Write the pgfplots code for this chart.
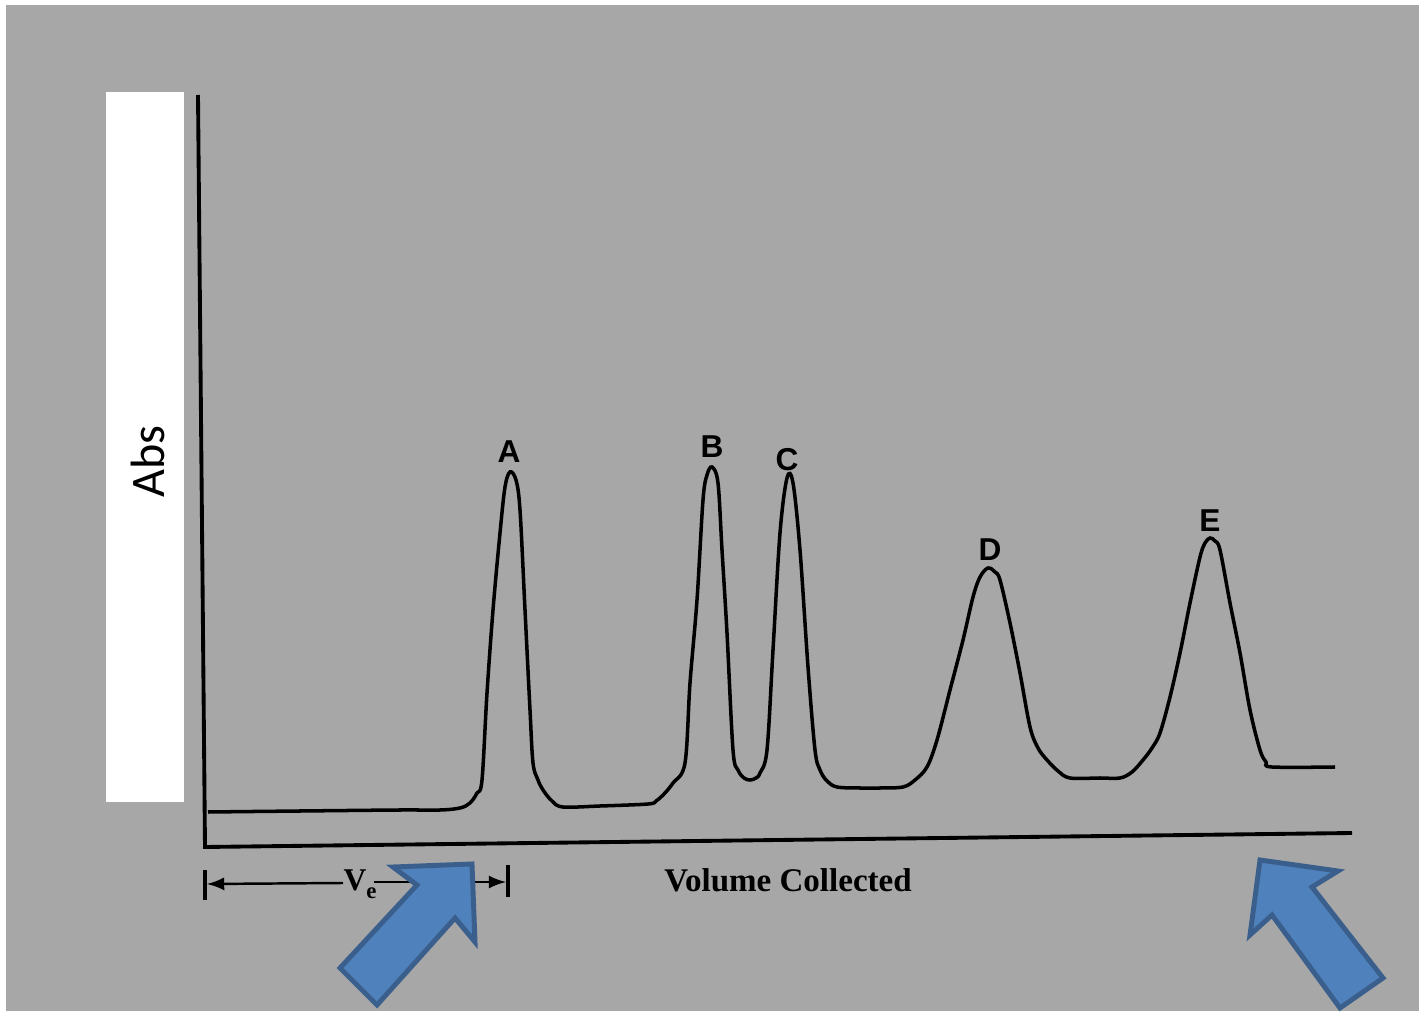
\documentclass[border=0pt]{standalone}
\usepackage{pgfplots}
\pgfplotsset{compat=1.18}
\usepackage{fontspec}
\setmainfont{Liberation Serif}
\newfontfamily\carlito{Carlito}
\newfontfamily\helv{Liberation Sans}
\definecolor{bg}{HTML}{A7A7A7}
\definecolor{afill}{HTML}{4F81BD}
\definecolor{aline}{HTML}{3A5F8C}
\begin{document}
\begin{tikzpicture}
\begin{axis}[width=14.23cm,height=10.14cm,scale only axis,
  xmin=0,xmax=1423,ymin=0,ymax=1014,y dir=reverse,hide axis]
% background
\addplot[draw=none,fill=white] coordinates {(0,0)(1423,0)(1423,1014)(0,1014)} --cycle;
\addplot[draw=none,fill=bg] coordinates {(6,5)(1419,5)(1419,1011)(6,1011)} --cycle;
% white label box
\addplot[draw=none,fill=white] coordinates {(106,92)(184,92)(184,802)(106,802)} --cycle;
\node[rotate=90,font=\carlito\fontsize{13.7}{15}\selectfont] at (axis cs:148,462) {Abs};
% axes
\addplot[line width=1.1pt,black] coordinates {(198,95)(205,847)(1352,833)};
% chromatogram
\addplot[line width=1pt,black,smooth,tension=0.55] coordinates {
(208,812)(300,811)(400,810)(440,810)(460,808)(470,803)(477,793)(482,780)(487,693)(493,610)(500,533)(505,487)(510,472)(516,480)(520,510)(525,610)(530,710)(533,763)(538,780)(543,790)(552,801)(563,807)(600,806)(648,804)(656,801)(664,794)(673,783)(685,763)(690,683)(697,600)(703,500)(707,475)(712,467)(718,483)(722,550)(727,633)(733,750)(738,770)(744,778)(750,780)(756,778)(760,773)(767,750)(773,650)(780,533)(787,478)(793,483)(800,550)(808,667)(815,750)(820,770)(827,781)(837,787)(860,788)(880,788)(903,787)(915,780)(927,767)(937,740)(950,690)(963,640)(973,597)(980,577)(988,568)(995,572)(1000,580)(1010,623)(1020,673)(1030,727)(1038,748)(1047,760)(1058,771)(1070,778)(1100,778)(1120,778)(1132,772)(1143,760)(1152,748)(1160,733)(1170,697)(1180,653)(1190,603)(1200,557)(1205,543)(1210,538)(1215,541)(1220,550)(1230,603)(1240,653)(1250,710)(1260,750)(1266,762)(1272,767)(1335,767)};
% peak labels
\node[font=\helv\bfseries\fontsize{9}{10}\selectfont] at (axis cs:509,452) {A};
\node[font=\helv\bfseries\fontsize{9}{10}\selectfont] at (axis cs:712,447) {B};
\node[font=\helv\bfseries\fontsize{9}{10}\selectfont] at (axis cs:787,460) {C};
\node[font=\helv\bfseries\fontsize{9}{10}\selectfont] at (axis cs:990,550) {D};
\node[font=\helv\bfseries\fontsize{9}{10}\selectfont] at (axis cs:1210,521) {E};
% x label
\node[font=\bfseries\fontsize{9.4}{11}\selectfont] at (axis cs:788,880) {Volume Collected};
% Ve annotation
\addplot[line width=0.9pt,black] coordinates {(205,870)(205,900)};
\addplot[line width=0.9pt,black] coordinates {(508,865)(508,897)};
\addplot[line width=0.7pt,black,-latex] coordinates {(343,883)(207,884)};
\addplot[line width=0.7pt,black,-latex] coordinates {(374,882)(506,882)};
\node[font=\bfseries\fontsize{9}{10}\selectfont,inner sep=0pt] at (axis cs:360,884) {V\raisebox{-0.55ex}{\fontsize{6.5}{7}\selectfont e}};
% blue arrows
\addplot[line width=1.4pt,draw=aline,fill=afill] coordinates {(472,864)(475,942)(455,918)(377,1005)(340,968)(417,885)(393,867)} --cycle;
\addplot[line width=1.4pt,draw=aline,fill=afill] coordinates {(1260,860)(1338,871)(1312,887)(1383,978)(1340,1008)(1272,915)(1250,935)} --cycle;
\end{axis}
\end{tikzpicture}
\end{document}
